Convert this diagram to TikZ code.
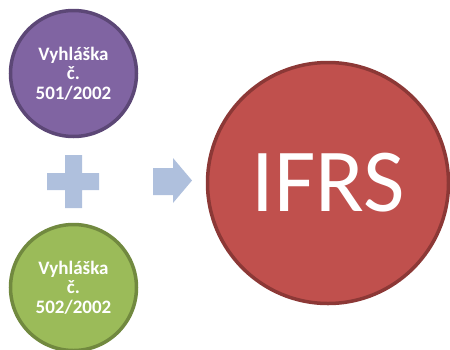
\documentclass[tikz,border=0pt]{standalone}
\usepackage{fontspec}
\setmainfont{Carlito}
\usepackage{tikz}

\definecolor{lawpurple}{HTML}{8064A2}
\definecolor{lawpurpleedge}{HTML}{5C4776}
\definecolor{lawgreen}{HTML}{9BBB59}
\definecolor{lawgreenedge}{HTML}{71893F}
\definecolor{ifrsred}{HTML}{C0504D}
\definecolor{ifrsrededge}{HTML}{8C3836}
\definecolor{signblue}{HTML}{AFC0DD}

\tikzset{
    lawcircle/.style={circle, minimum size=126pt, inner sep=0pt, line width=3.5pt,
        text=white, align=center, font=\fontsize{19}{19.5}\selectfont\bfseries},
    signshape/.style={fill=signblue, draw=none}
}

\begin{document}
\begin{tikzpicture}[x=1pt, y=-1pt]
    \useasboundingbox (0,0) rectangle (450,349);
    % Vyhlasky
    \foreach \name/\fc/\dc/\y in {501/lawpurple/lawpurpleedge/73.5, 502/lawgreen/lawgreenedge/287.5} {
        \node[lawcircle, fill=\fc, draw=\dc] (Law-\name) at (73.5,\y)
            {Vyhláška\\č.\\\name/2002};
    }
    % Plus
    \coordinate (Plus) at (73,181.5);
    \fill[signshape] ([shift={(-26,-8.5)}]Plus) -- ++(18,0) -- ++(0,-18) -- ++(17,0)
        -- ++(0,18) -- ++(17,0) -- ++(0,17) -- ++(-17,0) -- ++(0,18) -- ++(-17,0)
        -- ++(0,-18) -- ++(-18,0) -- cycle;
    % IFRS
    \node[circle, minimum size=241pt, inner sep=0pt, line width=3.5pt,
        fill=ifrsred, draw=ifrsrededge, text=white,
        font=\fontsize{90}{90}\selectfont] (IFRS) at (328,183) {IFRS};
    % Arrow
    \coordinate (Arrow) at (192,180.5);
    \fill[signshape] (Arrow) -- ++(-19,-22.5) -- ++(0,10) -- ++(-20,0) -- ++(0,27)
        -- ++(20,0) -- ++(0,8) -- cycle;
\end{tikzpicture}
\end{document}
